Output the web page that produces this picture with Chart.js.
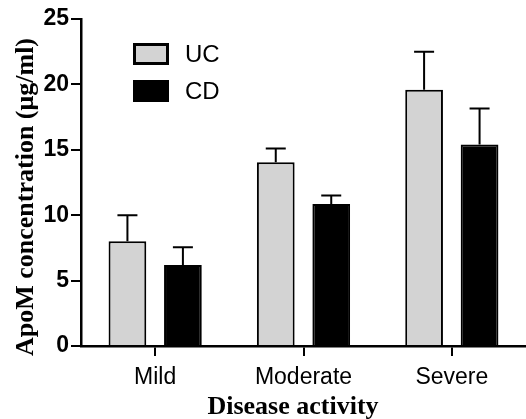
<!DOCTYPE html>
<html>
<head>
<meta charset="utf-8">
<script src="https://cdn.jsdelivr.net/npm/chart.js@4.4.1/dist/chart.umd.min.js"></script>
<style>
html,body{margin:0;padding:0;background:#fff;overflow:hidden;}
canvas{display:block;}
</style>
</head>
<body>
<canvas id="c" width="526" height="419"></canvas>
<script>
// Data
const categories = ['Mild', 'Moderate', 'Severe'];
const seriesNames = ['UC', 'CD'];
const ucMean = [8.0, 14.05, 19.6];
const ucSD = [2.0, 1.05, 2.9];
const cdMean = [6.2, 10.85, 15.4];
const cdSD = [1.35, 0.65, 2.75];
const yTicks = [0, 5, 10, 15, 20, 25];
const xTitle = 'Disease activity';
const yTitle = 'ApoM concentration (\u03bcg/ml)';

const sdBySeries = [ucSD, cdSD];

const errorBars = {
  id: 'errorBars',
  afterDatasetsDraw(chart) {
    const ctx = chart.ctx;
    const ys = chart.scales.y;
    ctx.save();
    ctx.strokeStyle = '#000';
    ctx.lineWidth = 2;
    chart.data.datasets.forEach((ds, i) => {
      const meta = chart.getDatasetMeta(i);
      meta.data.forEach((el, j) => {
        const top = ys.getPixelForValue(ds.data[j] + sdBySeries[i][j]);
        ctx.beginPath();
        ctx.moveTo(el.x, el.y);
        ctx.lineTo(el.x, top);
        ctx.moveTo(el.x - 10, top);
        ctx.lineTo(el.x + 10, top);
        ctx.stroke();
      });
    });
    ctx.restore();
  }
};

const customText = {
  id: 'customText',
  afterDraw(chart) {
    const ctx = chart.ctx;
    ctx.save();
    // legend
    const fills = ['#d3d3d3', '#000'];
    const rows = [43, 80];
    ctx.lineWidth = 3;
    ctx.strokeStyle = '#000';
    ctx.font = '24px "Liberation Sans", Arial, sans-serif';
    ctx.textBaseline = 'middle';
    ctx.textAlign = 'left';
    seriesNames.forEach((n, i) => {
      ctx.fillStyle = fills[i];
      ctx.fillRect(134.5, rows[i] + 1.5, 33, 19);
      ctx.strokeRect(134.5, rows[i] + 1.5, 33, 19);
      ctx.fillStyle = '#000';
      ctx.fillText(n, 185, rows[i] + 12);
    });
    // axis titles
    ctx.font = 'bold 26px "Liberation Serif", "Times New Roman", serif';
    ctx.textAlign = 'center';
    ctx.textBaseline = 'alphabetic';
    ctx.fillText(xTitle, 293, 414);
    ctx.translate(33, 197);
    ctx.rotate(-Math.PI / 2);
    ctx.fillText(yTitle, 0, 0);
    ctx.restore();
  }
};

new Chart(document.getElementById('c'), {
  type: 'bar',
  data: {
    labels: categories,
    datasets: [
      { label: seriesNames[0], data: ucMean, backgroundColor: '#d3d3d3', borderColor: '#000', borderWidth: 2 },
      { label: seriesNames[1], data: cdMean, backgroundColor: '#000', borderColor: '#000', borderWidth: 2 }
    ]
  },
  options: {
    responsive: false,
    animation: false,
    devicePixelRatio: 1,
    categoryPercentage: 0.748,
    barPercentage: 0.68,
    layout: { padding: { top: 19, left: 0, right: 0, bottom: 0 } },
    plugins: { legend: { display: false }, tooltip: { enabled: false } },
    scales: {
      y: {
        min: 0, max: 25,
        afterBuildTicks(scale) { scale.ticks = yTicks.map(v => ({ value: v })); },
        afterFit(scale) { scale.width = 81; },
        ticks: { color: '#000', padding: 2, font: { family: '"Liberation Sans Narrow", "Liberation Sans", Arial, sans-serif', size: 23, weight: 'bold' } },
        grid: { drawOnChartArea: false, drawTicks: true, tickLength: 10, color: '#000', lineWidth: 2 },
        border: { color: '#000', width: 2.5 }
      },
      x: {
        afterFit(scale) { scale.height = 73; },
        ticks: { color: '#000', padding: 8, font: { family: '"Liberation Sans", Arial, sans-serif', size: 23 } },
        grid: { offset: false, drawOnChartArea: false, drawTicks: true, tickLength: 10, color: '#000', lineWidth: 2 },
        border: { color: '#000', width: 2.5 }
      }
    }
  },
  plugins: [errorBars, customText]
});
</script>
</body>
</html>
